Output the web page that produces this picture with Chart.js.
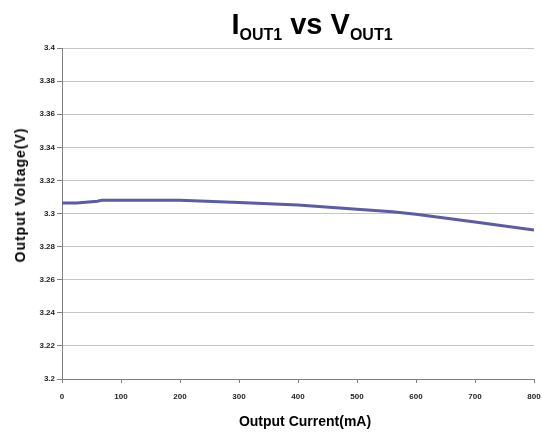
<!DOCTYPE html>
<html>
<head>
<meta charset="utf-8">
<script src="https://cdn.jsdelivr.net/npm/chart.js@4"></script>
<style>
  html, body { margin: 0; padding: 0; background: #fff; }
  #wrap { position: relative; width: 542px; height: 433px; overflow: hidden; }
  #c { position: absolute; left: 0; top: 0; }
  .t { position: absolute; font-family: "Liberation Sans", Arial, sans-serif; font-weight: bold; color: #000; white-space: nowrap; }
  #title { left: 312px; top: 7px; transform: translateX(-50%); font-size: 29px; line-height: 34px; }
  #title sub { font-size: 16px; vertical-align: -6px; line-height: 0; }
  #xt { left: 305px; top: 412px; transform: translateX(-50%); font-size: 14px; line-height: 18px; }
  #yt { left: 19.5px; top: 195px; transform: translate(-50%, -50%) rotate(-90deg); font-size: 14px; line-height: 18px; letter-spacing: 1px; }
</style>
</head>
<body>
<div id="wrap">
  <canvas id="c" width="542" height="433"></canvas>
  <div class="t" id="title">I<sub>OUT1</sub> vs V<sub>OUT1</sub></div>
  <div class="t" id="yt">Output Voltage(V)</div>
  <div class="t" id="xt">Output Current(mA)</div>
</div>
<script>
// Data
const currentMA = [0, 25, 45, 60, 67, 100, 200, 300, 400, 500, 560, 600, 700, 800];
const voltageV  = [3.3063, 3.3063, 3.3070, 3.3074, 3.3080, 3.3080, 3.3080, 3.3066, 3.3051, 3.3025, 3.3010, 3.2995, 3.2948, 3.2900];
const xTicks = [0, 100, 200, 300, 400, 500, 600, 700, 800];
const yTicks = [3.2, 3.22, 3.24, 3.26, 3.28, 3.3, 3.32, 3.34, 3.36, 3.38, 3.4];

const points = currentMA.map((x, i) => ({ x: x, y: voltageV[i] }));
const tickFont = { family: "'Liberation Sans', Arial, sans-serif", size: 8, weight: 'bold' };

new Chart(document.getElementById('c'), {
  type: 'line',
  data: {
    datasets: [{
      data: points,
      borderColor: '#5b5ba6',
      borderWidth: 3,
      pointRadius: 0,
      tension: 0,
      fill: false
    }]
  },
  options: {
    responsive: false,
    animation: false,
    layout: { padding: { left: 0, right: 0, top: 48, bottom: 0 } },
    plugins: { legend: { display: false }, title: { display: false }, tooltip: { enabled: false } },
    scales: {
      x: {
        type: 'linear',
        min: 0, max: 800,
        afterBuildTicks: s => { s.ticks = xTicks.map(v => ({ value: v })); },
        afterFit: s => { s.height = 54; s.paddingRight = 8; },
        grid: { drawOnChartArea: false, drawTicks: true, tickLength: 4, tickColor: '#808080', color: '#808080' },
        border: { color: '#808080', width: 1 },
        ticks: { font: tickFont, color: '#222', padding: 9, maxRotation: 0, autoSkip: false }
      },
      y: {
        type: 'linear',
        min: 3.2, max: 3.4,
        afterBuildTicks: s => { s.ticks = yTicks.map(v => ({ value: v })); },
        afterFit: s => { s.width = 62; },
        grid: { color: '#c4c4c4', lineWidth: 1, drawTicks: true, tickLength: 5, tickColor: '#808080' },
        border: { color: '#808080', width: 1 },
        ticks: { font: tickFont, color: '#222', padding: 2, autoSkip: false,
                 callback: v => String(parseFloat(Number(v).toFixed(2))) }
      }
    }
  }
});
</script>
</body>
</html>
